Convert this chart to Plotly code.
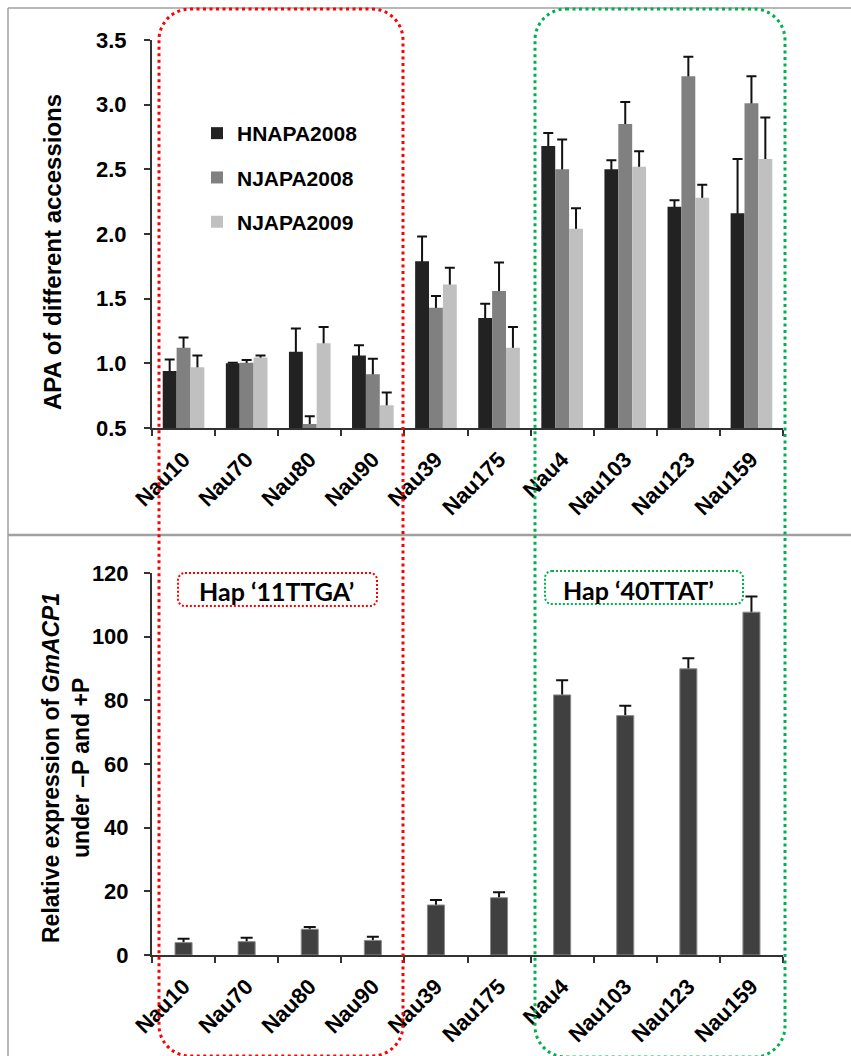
import plotly.graph_objects as go

W, H = 851, 1056

# ---------------- data ----------------
accessions = ["Nau10", "Nau70", "Nau80", "Nau90", "Nau39", "Nau175",
              "Nau4", "Nau103", "Nau123", "Nau159"]

series_names = ["HNAPA2008", "NJAPA2008", "NJAPA2009"]
series_colors = ["#222222", "#808080", "#C0C0C0"]

hnapa2008 = [0.94, 1.00, 1.09, 1.06, 1.79, 1.35, 2.68, 2.50, 2.21, 2.16]
hnapa2008_err = [0.09, 0.005, 0.18, 0.08, 0.19, 0.11, 0.10, 0.07, 0.05, 0.42]
njapa2008 = [1.12, 1.005, 0.53, 0.915, 1.43, 1.56, 2.50, 2.85, 3.22, 3.01]
njapa2008_err = [0.08, 0.02, 0.06, 0.12, 0.09, 0.22, 0.23, 0.17, 0.15, 0.21]
njapa2009 = [0.97, 1.045, 1.155, 0.675, 1.61, 1.12, 2.04, 2.52, 2.28, 2.58]
njapa2009_err = [0.09, 0.015, 0.125, 0.10, 0.13, 0.16, 0.16, 0.12, 0.10, 0.32]

expression = [3.9, 4.2, 8.1, 4.6, 15.7, 18.0, 81.7, 75.2, 89.9, 107.7]
expression_err = [1.2, 1.2, 0.7, 1.1, 1.6, 1.7, 4.6, 3.1, 3.3, 4.9]

apa_values = [hnapa2008, njapa2008, njapa2009]
apa_errors = [hnapa2008_err, njapa2008_err, njapa2009_err]

APA_MIN, APA_MAX = 0.5, 3.5
EXP_MIN, EXP_MAX = 0, 120

# ---------------- helpers (pixel -> paper) ----------------
def px(x):
    return x / W

def py(y):
    return 1 - y / H

def rounded_rect_path(x0, y0, x1, y1, r):
    k = 0.5523 * r
    def P(x, y):
        return f"{px(x):.5f},{py(y):.5f}"
    d = "M" + P(x0 + r, y0)
    d += " L" + P(x1 - r, y0)
    d += " C" + P(x1 - r + k, y0) + " " + P(x1, y0 + r - k) + " " + P(x1, y0 + r)
    d += " L" + P(x1, y1 - r)
    d += " C" + P(x1, y1 - r + k) + " " + P(x1 - r + k, y1) + " " + P(x1 - r, y1)
    d += " L" + P(x0 + r, y1)
    d += " C" + P(x0 + r - k, y1) + " " + P(x0, y1 - r + k) + " " + P(x0, y1 - r)
    d += " L" + P(x0, y0 + r)
    d += " C" + P(x0, y0 + r - k) + " " + P(x0 + r - k, y0) + " " + P(x0 + r, y0)
    d += " Z"
    return d

FONT = "Liberation Sans, Arial, sans-serif"

fig = go.Figure()

# ---------------- top panel ----------------
for i, (name, col) in enumerate(zip(series_names, series_colors)):
    vals = apa_values[i]
    errs = apa_errors[i]
    # error bars (drawn first, then covered by the bar itself below its top)
    fig.add_trace(go.Bar(
        x=accessions, y=vals, xaxis="x", yaxis="y",
        offsetgroup=f"g{i}", showlegend=False, hoverinfo="skip",
        marker=dict(color="rgba(0,0,0,0)", line=dict(width=0)),
        error_y=dict(type="data", symmetric=False, array=errs,
                     arrayminus=[v - APA_MIN for v in vals],
                     color="#111111", thickness=2, width=5),
    ))
    fig.add_trace(go.Bar(
        x=accessions, y=vals, xaxis="x", yaxis="y", name=name,
        offsetgroup=f"g{i}", legendgroup=name,
        marker=dict(color=col, line=dict(width=0)),
    ))

# ---------------- bottom panel ----------------
fig.add_trace(go.Bar(
    x=accessions, y=expression, xaxis="x2", yaxis="y2",
    offsetgroup="e", showlegend=False, hoverinfo="skip", width=0.27,
    marker=dict(color="rgba(0,0,0,0)", line=dict(width=0)),
    error_y=dict(type="data", symmetric=False, array=expression_err,
                 arrayminus=[v - EXP_MIN for v in expression],
                 color="#111111", thickness=2, width=6),
))
fig.add_trace(go.Bar(
    x=accessions, y=expression, xaxis="x2", yaxis="y2",
    offsetgroup="e", showlegend=False, width=0.27,
    marker=dict(color="#404040", line=dict(width=1, color="#8C8C8C")),
))

axis_common = dict(
    showline=True, linecolor="#333333", linewidth=2,
    ticks="outside", ticklen=6, tickwidth=2, tickcolor="#333333",
    showgrid=False, zeroline=False, automargin=False,
)

xdom = [px(152), px(783)]
xtickfont = dict(family=FONT, size=22, weight="bold")
ytickfont = dict(family=FONT, size=22, weight="bold")

fig.update_layout(
    width=W, height=H,
    margin=dict(l=0, r=0, t=0, b=0),
    paper_bgcolor="white", plot_bgcolor="white",
    barmode="group", bargap=0.34, bargroupgap=0,
    font=dict(family=FONT, color="#000000"),
    xaxis=dict(domain=xdom, anchor="y", type="category",
               tickson="boundaries", tickangle=-45, tickfont=xtickfont,
               ticklabelstandoff=8, **axis_common),
    yaxis=dict(domain=[py(428), py(40)], anchor="x",
               range=[APA_MIN, APA_MAX], dtick=0.5, tickformat=".1f",
               tickfont=ytickfont, ticklabelstandoff=13, **axis_common),
    xaxis2=dict(domain=xdom, anchor="y2", type="category",
                tickson="boundaries", tickangle=-45, tickfont=xtickfont,
                ticklabelstandoff=8, **axis_common),
    yaxis2=dict(domain=[py(955), py(573)], anchor="x2",
                range=[EXP_MIN, EXP_MAX], dtick=20,
                tickfont=ytickfont, ticklabelstandoff=11, **axis_common),
    legend=dict(x=px(197), y=py(113), xanchor="left", yanchor="top",
                bgcolor="rgba(0,0,0,0)", borderwidth=0,
                traceorder="grouped", tracegroupgap=14,
                font=dict(family=FONT, size=21, weight="bold")),
)

# ---------------- frame and boxes ----------------
shapes = []
frame_col = "#A0A0A0"
shapes.append(dict(type="line", xref="paper", yref="paper",
                   x0=px(8), x1=px(8), y0=py(8), y1=py(1060),
                   line=dict(color=frame_col, width=1.5)))
shapes.append(dict(type="line", xref="paper", yref="paper",
                   x0=px(8), x1=px(860), y0=py(8), y1=py(8),
                   line=dict(color=frame_col, width=1.5)))
shapes.append(dict(type="line", xref="paper", yref="paper",
                   x0=px(8), x1=px(860), y0=py(535), y1=py(535),
                   line=dict(color=frame_col, width=2.5)))

shapes.append(dict(type="path", xref="paper", yref="paper",
                   path=rounded_rect_path(159, 9, 403, 1056, 31),
                   line=dict(color="#FF0000", width=3, dash="3px,3.5px")))
shapes.append(dict(type="path", xref="paper", yref="paper",
                   path=rounded_rect_path(535, 9, 785, 1057, 31),
                   line=dict(color="#00B050", width=3, dash="3px,3.5px")))

shapes.append(dict(type="path", xref="paper", yref="paper",
                   path=rounded_rect_path(178, 573, 377, 606, 7),
                   line=dict(color="#FF0000", width=2, dash="2px,2px")))
shapes.append(dict(type="path", xref="paper", yref="paper",
                   path=rounded_rect_path(545, 571, 743, 604, 7),
                   line=dict(color="#00B050", width=2, dash="2px,2px")))

fig.update_layout(shapes=shapes)

# ---------------- texts ----------------
annotations = [
    dict(xref="paper", yref="paper", x=px(52), y=py(252),
         text="APA of different accessions", textangle=-90, showarrow=False,
         xanchor="center", yanchor="middle",
         font=dict(family=FONT, size=24, weight="bold")),
    dict(xref="paper", yref="paper", x=px(66), y=py(768),
         text="Relative expression of <i>GmACP1</i><br>under \u2013P and +P",
         textangle=-90, showarrow=False, xanchor="center", yanchor="middle",
         font=dict(family=FONT, size=23, weight="bold")),
    dict(xref="paper", yref="paper", x=px(276), y=py(591),
         text="Hap \u201811TTGA\u2019", showarrow=False,
         xanchor="center", yanchor="middle",
         font=dict(family="Lato, Open Sans, sans-serif", size=25, weight="bold")),
    dict(xref="paper", yref="paper", x=px(638), y=py(590),
         text="Hap \u201840TTAT\u2019", showarrow=False,
         xanchor="center", yanchor="middle",
         font=dict(family="Lato, Open Sans, sans-serif", size=25, weight="bold")),
]
fig.update_layout(annotations=annotations)

fig.write_html(
    "out.html",
    config={"displayModeBar": False},
    post_script="document.body.style.margin='0';document.body.style.padding='0';"
                "document.body.style.overflow='hidden';",
)
